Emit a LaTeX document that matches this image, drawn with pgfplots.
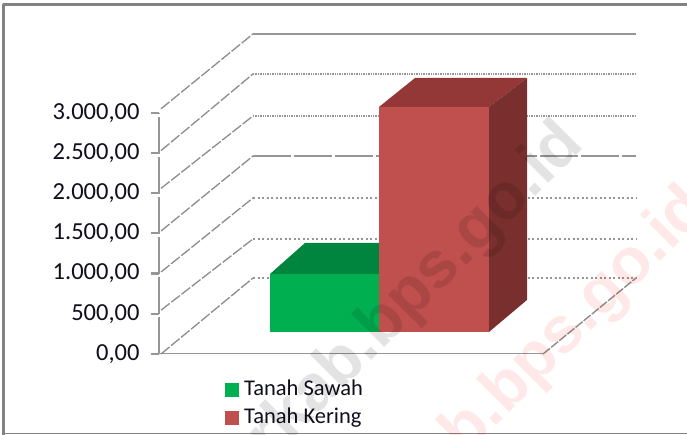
\documentclass[border=0pt]{standalone}
\usepackage{fontspec}
\setmainfont{Carlito}
\newfontfamily\wmfont{Liberation Sans}
\usepackage{pgfplots}
\pgfplotsset{compat=1.18}
\definecolor{barGreen}{RGB}{0,176,80}
\definecolor{barGreenTop}{RGB}{0,133,62}
\definecolor{barRed}{RGB}{192,80,77}
\definecolor{barRedTop}{RGB}{147,56,54}
\definecolor{barRedSide}{RGB}{121,47,46}
\definecolor{rGrid}{RGB}{150,150,150}
\definecolor{rDiag}{RGB}{140,140,140}
\definecolor{rFrame}{RGB}{130,130,130}
\definecolor{rText}{RGB}{15,15,30}
\definecolor{wmPink}{RGB}{255,0,0}
\pgfplotsset{
  flat/.style={forget plot,line join=round},
  diag/.style={flat,draw=rDiag,line width=1.3pt,dash pattern=on 11pt off 2pt},
  wall/.style={flat,draw=rGrid,line width=1.8pt}
}
\begin{document}
\begin{tikzpicture}
\path[use as bounding box] (0,0) rectangle (687pt,435pt);
% x is in pixels of the picture, y in the wall's units (back wall and bar faces are offset)
\begin{axis}[
  at={(159pt,81pt)},
  anchor=origin,
  scale only axis,
  width=384pt,height=241.2pt,
  xmin=159,xmax=543,
  ymin=0,ymax=3000,
  clip=false,
  axis y line=left,
  axis x line=bottom,
  x axis line style={-,draw=rGrid,line width=1pt},
  y axis line style={-,draw=rGrid,line width=1.8pt,dash pattern=on 37pt off 3pt},
  xtick=\empty,
  ytick={0,500,1000,1500,2000,2500,3000},
  ytick align=outside,
  major tick length=8pt,
  ytick style={draw=rGrid,line width=2.2pt},
  yticklabel style={
    xshift=-8pt,
    font=\fontsize{24.5}{28}\selectfont,text=rText,
    /pgf/number format/.cd,fixed,fixed zerofill,precision=2,use comma,1000 sep={.},assume math mode=true},
  legend style={
    at={(axis cs:225,-298)},anchor=north west,draw=none,fill=none,inner sep=0pt,
    font=\fontsize{22.5}{27}\selectfont,text=rText,row sep=8pt,column sep=4pt,
    nodes={inner sep=1.5pt}},
  legend cell align=left,
]
% picture frame
\addplot[flat,draw=rFrame,line width=3pt] coordinates {(4,-1008) (4,4353) (687,4353)};
\addplot[flat,draw=rFrame,line width=1pt] coordinates {(4,-995) (687,-995)};
% side wall and back wall
\addplot[diag] coordinates {(161,0) (253,945)};
\addplot[diag] coordinates {(161,545) (253,1431)};
\addplot[diag] coordinates {(161,1020) (253,1941)};
\addplot[diag] coordinates {(161,1530) (253,2463)};
\addplot[diag] coordinates {(161,2060) (253,2961)};
\addplot[diag] coordinates {(161,2530) (253,3483)};
\addplot[diag] coordinates {(161,3050) (253,3981)};
\addplot[wall,dash pattern=on 2.2pt off 2.3pt] coordinates {(253,945) (636,945)};
\addplot[wall,dash pattern=on 2.2pt off 2.3pt] coordinates {(253,1431) (636,1431)};
\addplot[wall,dash pattern=on 2.2pt off 2.3pt] coordinates {(253,1941) (636,1941)};
\addplot[wall,dash pattern=on 38pt off 3pt] coordinates {(253,2463) (636,2463)};
\addplot[wall,line width=2.4pt,dash pattern=on 1.4pt off 1pt] coordinates {(253,2961) (636,2961)};
\addplot[wall,line width=2.4pt,dash pattern=on 1.4pt off 1pt] coordinates {(253,3483) (636,3483)};
\addplot[wall] coordinates {(253,3981) (636,3981)};
\addplot[flat,draw=rDiag,line width=1.4pt,dash pattern=on 9pt off 1.5pt] coordinates {(543,0) (636,945)};
% Tanah Sawah
\addplot[flat,fill=barGreenTop,draw=none] coordinates {(270,995) (305,1381) (379,1381) (379,995)} --cycle;
\addplot[flat,fill=barGreen,draw=none,yshift=22pt] coordinates {(270,0) (379,0) (379,720) (270,720)} --cycle;
% Tanah Kering
\addplot[flat,fill=barRedTop,draw=none] coordinates {(379,3073) (415,3433) (527,3433) (489,3073)} --cycle;
\addplot[flat,fill=barRedSide,draw=none] coordinates {(489,3073) (527,3433) (527,672) (489,274)} --cycle;
\addplot[flat,fill=barRed,draw=none,yshift=22pt] coordinates {(379,0) (489,0) (489,2799) (379,2799)} --cycle;
% legend
\addlegendimage{legend image code/.code={\fill[barGreen] (0pt,-7.5pt) rectangle (13pt,5.5pt);}}
\addlegendentry{Tanah Sawah}
\addlegendimage{legend image code/.code={\fill[barRed] (0pt,-7.5pt) rectangle (13pt,5.5pt);}}
\addlegendentry{Tanah Kering}
\end{axis}
% watermark
\begin{scope}
\clip (0,0) rectangle (687pt,435pt);
\node[rotate=45,anchor=base east,inner sep=0pt,text=black,text opacity=0.11,font=\wmfont\bfseries\fontsize{65}{70}\selectfont] at (586pt,289pt) {rkab.bps.go.id};
\node[rotate=45,anchor=base east,inner sep=0pt,text=wmPink,text opacity=0.09,font=\wmfont\bfseries\fontsize{65}{70}\selectfont] at (711pt,224pt) {b.bps.go.id};
\end{scope}
\end{tikzpicture}
\end{document}
